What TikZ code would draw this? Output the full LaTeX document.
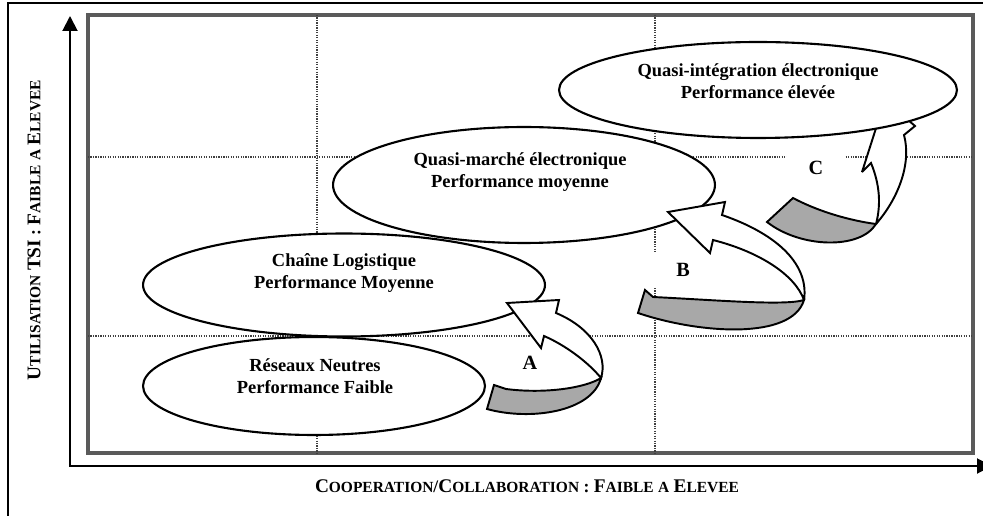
\documentclass[tikz,border=0pt]{standalone}
\usepackage{fontspec}
\setmainfont{Liberation Serif}
\usetikzlibrary{arrows.meta,positioning,calc,shapes.geometric}
\usepackage{xcolor}
\definecolor{BandGray}{RGB}{168,168,168}
\definecolor{BoxGray}{RGB}{90,90,90}
\newcommand{\capword}[2]{{\fontsize{11}{13}\selectfont #1}{\fontsize{8.8}{13}\selectfont #2}}
\tikzset{
  zone/.style={draw, ellipse, fill=white, line width=1.2pt, inner sep=0pt},
  zonetext/.style={align=center, inner sep=0pt,
    font=\bfseries\fontsize{10.5}{12.5}\selectfont},
  tag/.style={fill=white, inner sep=0pt, minimum width=1.15cm,
    minimum height=0.7cm, font=\bfseries\fontsize{11.5}{13}\selectfont},
  ribbon/.style={draw, line width=1.1pt, fill=BandGray, line join=miter, miter limit=3},
  shaft/.style={draw, line width=1.1pt, fill=white, line join=miter, miter limit=3},
  gridline/.style={line width=0.7pt, black!75, dash pattern=on 0.7pt off 0.7pt},
  axis/.style={line width=1.1pt, {Triangle[length=0.3cm,width=0.3cm]}-{Triangle[length=0.3cm,width=0.3cm]}},
  axislabel/.style={font=\bfseries, inner sep=0pt}
}

\begin{document}
\begin{tikzpicture}[x=0.02cm, y=-0.02cm]
  \useasboundingbox (0,0) rectangle (983,516);
  % frame, quadrants and axes
  \draw[line width=0.8pt] (8,530) -- (8,3) -- (1000,3);
  \draw[line width=1.8pt, BoxGray] (88,15) rectangle (973,453);
  \draw[gridline] (317,15) -- (317,453);
  \draw[gridline] (655,15) -- (655,453);
  \draw[gridline] (88,157) -- (973,157);
  \draw[gridline] (88,336) -- (973,336);
  \coordinate (origin) at (70,466);
  \coordinate (ytip) at (70,16);
  \coordinate (xtip) at (992,466);
  \draw[axis] (ytip) -- (origin) -- (xtip);
  \node[axislabel, rotate=90] (ylabel) at (34,230)
    {\capword{U}{TILISATION} \capword{TSI}{} : \capword{F}{AIBLE} \capword{}{A} \capword{E}{LEVEE}};
  \node[axislabel] (xlabel) at (527,486)
    {\capword{C}{OOPERATION}/\capword{C}{OLLABORATION} : \capword{F}{AIBLE} \capword{}{A} \capword{E}{LEVEE}};

  % step labels
  \node[tag] (tagA) at (530,363) {A};
  \node[tag] (tagB) at (683,270) {B};
  \node[tag] (tagC) at (816,168) {C};

  % zones
  \node[zone, minimum width=6.84cm, minimum height=1.96cm] (reseaux) at (314,386) {};
  \node[zone, minimum width=8.04cm, minimum height=2.06cm] (chaine) at (344,285) {};
  \node[zone, minimum width=7.64cm, minimum height=2.32cm] (marche) at (524,185) {};

  % arrow A
  \draw[ribbon] (487,409) .. controls (530,421) and (592,412) .. (601,378)
    .. controls (585,388) and (545,394) .. (506,389) -- (494,385) -- cycle;
  \draw[shaft] (601,378) .. controls (608,356) and (592,328) .. (556,313)
    -- (559,300) -- (507,303) -- (541,348) -- (544,336)
    .. controls (565,345) and (588,362) .. (601,378) -- cycle;
  % arrow B
  \draw[ribbon] (638,313) .. controls (700,334) and (792,340) .. (804,300)
    .. controls (785,306) and (715,300) .. (653,297) -- (645,290) -- cycle;
  \draw[shaft] (804,300) .. controls (809,266) and (780,235) .. (722,215)
    -- (725,202) -- (668,212) -- (710,253) -- (713,240)
    .. controls (760,252) and (795,275) .. (804,300) -- cycle;
  % arrow C
  \draw[ribbon] (767,222) .. controls (800,248) and (860,250) .. (876,224)
    .. controls (860,222) and (825,215) .. (793,198) -- cycle;
  \draw[shaft] (876,224) .. controls (897,200) and (912,165) .. (904,135)
    -- (915,126) -- (885,100) -- (862,172) -- (871,163)
    .. controls (880,185) and (881,205) .. (876,224) -- cycle;

  \node[zone, minimum width=7.96cm, minimum height=1.92cm] (integration) at (758,90) {};

  % zone texts
  \node[zonetext] (reseauxtxt) at ($(reseaux)+(1,-10)$) {Réseaux Neutres\\Performance Faible};
  \node[zonetext] (chainetxt) at ($(chaine)+(0,-12)$) {Chaîne Logistique\\Performance Moyenne};
  \node[zonetext] (marchetxt) at ($(marche)+(-4,-13)$) {Quasi-marché électronique\\Performance moyenne};
  \node[zonetext] (integrationtxt) at ($(integration)+(0,-9)$) {Quasi-intégration électronique\\Performance élevée};
\end{tikzpicture}
\end{document}
